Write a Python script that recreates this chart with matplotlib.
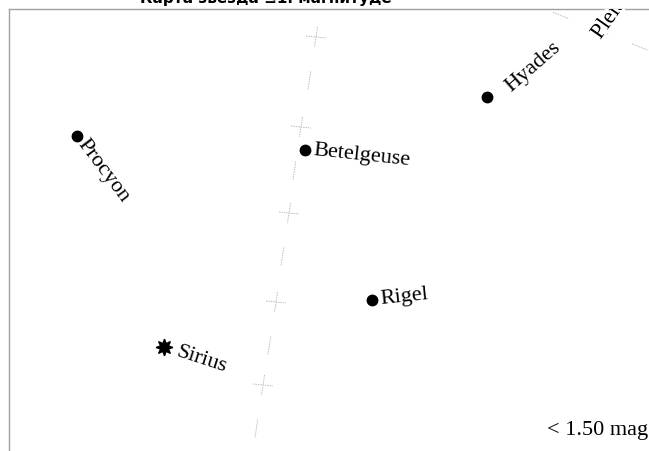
import numpy as np
import matplotlib.pyplot as plt
import matplotlib.patheffects as pe

# chart text
title = "Карта звезда ≤1. магнитуде"
legend_text = "< 1.50 mag"

# stars (map coordinates of the projected chart)
star_names = ["Procyon", "Betelgeuse", "Hyades", "Rigel", "Sirius", "Pleiades"]
star_x = [77, 305, 487, 372, 164, 592]
star_y = [136, 150, 97, 300, 347, 44]
label_rot = [-53, -6, 41, 6, -18, 55]
label_gap = [7, 8, 21, 8, 14, 8]
label_side = [0, 0, 8, 0, 0, 0]  # shift across the text direction
star_marker = ['o', 'o', 'o', 'o', (8, 1, 0), None]

# graticule: meridian crossing points and ecliptic points
meridian_x = [316, 301, 289, 276, 263]
meridian_y = [37, 127, 213, 302, 385]
ecliptic_x = [561, 601, 640]
ecliptic_y = [15.5, 31.5, 47]

fig = plt.figure(figsize=(6.49, 4.51), dpi=100)
ax = fig.add_axes([9/649, 0, 640/649, 442/451])
ax.set_xlim(9, 649)
ax.set_ylim(451, 9)
ax.set_xticks([])
ax.set_yticks([])
for s in ['right', 'bottom']:
  ax.spines[s].set_visible(False)
for s in ['left', 'top']:
  ax.spines[s].set_color('#a0a0a0')
  ax.spines[s].set_linewidth(1.0)

gcol = '#bdbdbd'
gls = (0, (1.5, 1))

# meridian: crosses at the intersections, dashes half way between
mx = np.array(meridian_x, float)
my = np.array(meridian_y, float)
dirx = (mx[-1] - mx[0]) / (my[-1] - my[0])
half = 10
for x, y in zip(mx, my):
  ax.plot([x - dirx*half, x + dirx*half], [y - half, y + half], color=gcol, lw=0.7, ls=gls)
  ax.plot([x - 10, x + 10], [y - 1, y + 1], color=gcol, lw=0.7, ls=gls)
step = np.mean(np.diff(my))
for x, y in zip(mx, my):
  cy = y + step/2
  cx = x + dirx*step/2
  ax.plot([cx - dirx*9, cx + dirx*9], [cy - 9, cy + 9], color=gcol, lw=0.7, ls=gls)

# ecliptic dashes
for x, y in zip(ecliptic_x, ecliptic_y):
  ax.plot([x - 8, x + 8], [y - 3.2, y + 3.2], color=gcol, lw=0.7, ls=gls, clip_on=False)

# stars and labels
for name, x, y, r, g, sd, m in zip(star_names, star_x, star_y, label_rot, label_gap,
                                   label_side, star_marker):
  if m == 'o':
    ax.plot(x, y, marker='o', ms=7.5, color='black', ls='none')
  elif m is not None:
    ax.plot(x, y, marker=m, ms=12, color='black', ls='none')
  a = np.radians(r)
  tx = x + g*np.cos(a) + sd*np.sin(a)
  ty = y - g*np.sin(a) + sd*np.cos(a)
  t = ax.text(tx, ty, name, rotation=r, rotation_mode='anchor', ha='left', va='center',
              family='Liberation Serif', fontsize=16, color='black', clip_on=True, zorder=5)
  if name == "Pleiades":
    t.set_path_effects([pe.withStroke(linewidth=4, foreground='white')])

ax.text(547, 435, legend_text, ha='left', va='baseline', family='Liberation Serif',
        fontsize=16, color='black', clip_on=False)

fig.text(266/649, 1 - 3/451, title, ha='center', va='baseline', fontsize=11,
         fontweight='bold', family='DejaVu Sans')

plt.savefig('out.png', dpi=100)
